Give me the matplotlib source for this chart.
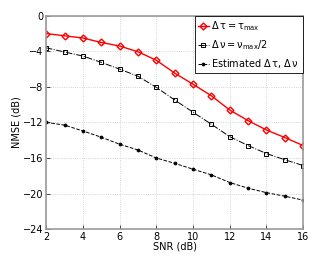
import matplotlib.pyplot as plt

snr = list(range(2, 17))

nmse_tau_max = [-2.0, -2.25, -2.5, -3.0, -3.4, -4.05, -5.0, -6.45, -7.7,
                -9.0, -10.6, -11.8, -12.85, -13.7, -14.6]
nmse_nu_half = [-3.6, -4.08, -4.53, -5.24, -6.0, -6.8, -8.05, -9.47, -10.85,
                -12.2, -13.6, -14.6, -15.5, -16.2, -16.85]
nmse_est = [-12.0, -12.3, -12.96, -13.66, -14.45, -15.1, -16.0, -16.6, -17.26,
            -17.9, -18.76, -19.4, -19.9, -20.3, -20.74]

lab_tau = r'$\Delta\,\mathrm{\tau} = \mathrm{\tau}_{\mathrm{max}}$'
lab_nu = r'$\Delta\,\mathrm{\nu} = \mathrm{\nu}_{\mathrm{max}}/2$'
lab_est = r'Estimated $\Delta\,\mathrm{\tau}$, $\Delta\,\mathrm{\nu}$'

plt.rcParams['font.family'] = 'DejaVu Sans'
plt.rcParams['mathtext.fontset'] = 'dejavusans'

fig = plt.figure(figsize=(3.32, 2.63), dpi=100)
ax = fig.add_axes([0.139, 0.129, 0.774, 0.811])

ax.plot(snr, nmse_tau_max, '-', color='red', marker='D', markersize=3.5,
        markerfacecolor='none', markeredgewidth=1.0, linewidth=1.0, label=lab_tau)
ax.plot(snr, nmse_nu_half, '-.', color='black', marker='s', markersize=2.8,
        markerfacecolor='none', markeredgewidth=0.7, linewidth=0.7, label=lab_nu)
ax.plot(snr, nmse_est, '--', color='black', marker='o', markersize=2.0,
        markeredgewidth=0.7, linewidth=0.7, label=lab_est)

ax.set_xlim(2, 16)
ax.set_ylim(-24, 0)
ax.set_xticks(range(2, 17, 2))
ax.set_yticks(range(-24, 1, 4))
ax.set_yticklabels([str(v).replace('-', '\u2212') for v in range(-24, 1, 4)])
ax.grid(True, linestyle=':', color='#c8c8c8', linewidth=0.6)
ax.tick_params(direction='in', labelsize=7, length=3, width=0.5, pad=2)
for s in ax.spines.values():
    s.set_color('#999999')
    s.set_linewidth(1.2)

ax.set_xlabel('SNR (dB)', fontsize=7, labelpad=0)
ax.set_ylabel('NMSE (dB)', fontsize=7, labelpad=1)

leg = ax.legend(loc='upper right', fontsize=7, handlelength=1.1, handletextpad=0.25,
                borderaxespad=0.05, borderpad=0.35, labelspacing=0.5,
                fancybox=False, framealpha=1)
leg.get_frame().set_edgecolor('black')
leg.get_frame().set_linewidth(0.6)

fig.savefig('out.png', dpi=100)
